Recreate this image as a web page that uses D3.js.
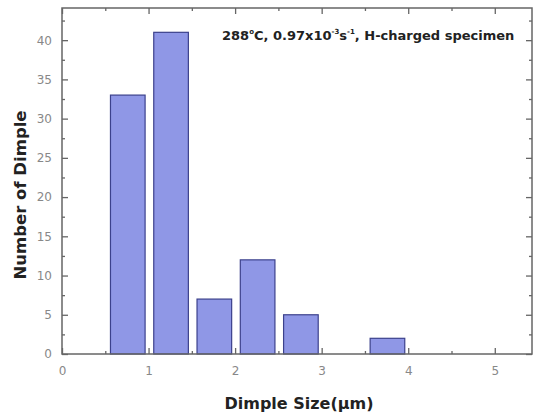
<!DOCTYPE html>
<html>
<head>
<meta charset="utf-8">
<script src="https://cdn.jsdelivr.net/npm/d3@7"></script>
<style>
  body { margin: 0; background: #fff; }
  text { font-family: "DejaVu Sans", Arial, sans-serif; }
</style>
</head>
<body>
<svg id="chart" width="534" height="419"></svg>
<script>
// 柱的区间起点和终点 (μm)
const binStart = [0.5, 1.0, 1.5, 2.0, 2.5, 3.5];
const binEnd = [1.0, 1.5, 2.0, 2.5, 3.0, 4.0];
// 每个区间的韧窝数
const counts = [33, 41, 7, 12, 5, 2];
// 刻度
const xTicks = [0, 1, 2, 3, 4, 5];
const yTicks = [0, 5, 10, 15, 20, 25, 30, 35, 40];

const svg = d3.select("#chart");

const mLeft = 62, mRight = 532, mTop = 8, mBottom = 354;

const x = d3.scaleLinear().domain([0, 5.43]).range([mLeft, mRight]);
const y = d3.scaleLinear().domain([0, 44.1]).range([mBottom, mTop]);

const axisColor = "#666";

// 柱子
svg.selectAll("rect.bar")
  .data(counts)
  .enter()
  .append("rect")
  .attr("class", "bar")
  .attr("x", (d, i) => x(binStart[i] + 0.06))
  .attr("width", (d, i) => x(binEnd[i] - 0.04) - x(binStart[i] + 0.06))
  .attr("y", d => y(d))
  .attr("height", d => y(0) - y(d))
  .attr("fill", "#8f97e6")
  .attr("stroke", "#3c418c")
  .attr("stroke-width", 1.2);

// 边框
svg.append("rect")
  .attr("x", mLeft)
  .attr("y", mTop)
  .attr("width", mRight - mLeft)
  .attr("height", mBottom - mTop)
  .attr("fill", "none")
  .attr("stroke", axisColor)
  .attr("stroke-width", 1.5);

// 坐标轴 (刻度朝内)
const xMinor = d3.range(0.5, 5.5, 1);
const yMinor = d3.range(2.5, 44, 5);

svg.append("g")
  .attr("transform", `translate(0,${mBottom})`)
  .call(d3.axisBottom(x).tickValues(xTicks).tickFormat(d3.format("d")).tickSizeInner(-6).tickSizeOuter(0).tickPadding(12))
  .call(g => g.select(".domain").remove());
svg.append("g")
  .attr("transform", `translate(0,${mBottom})`)
  .call(d3.axisBottom(x).tickValues(xMinor).tickSize(-3).tickFormat(""))
  .call(g => g.select(".domain").remove());
svg.append("g")
  .attr("transform", `translate(0,${mTop})`)
  .call(d3.axisTop(x).tickValues(xTicks).tickSize(-6).tickFormat(""))
  .call(g => g.select(".domain").remove());
svg.append("g")
  .attr("transform", `translate(0,${mTop})`)
  .call(d3.axisTop(x).tickValues(xMinor).tickSize(-3).tickFormat(""))
  .call(g => g.select(".domain").remove());

svg.append("g")
  .attr("transform", `translate(${mLeft},0)`)
  .call(d3.axisLeft(y).tickValues(yTicks).tickSizeInner(-6).tickSizeOuter(0).tickPadding(10))
  .call(g => g.select(".domain").remove());
svg.append("g")
  .attr("transform", `translate(${mLeft},0)`)
  .call(d3.axisLeft(y).tickValues(yMinor).tickSize(-3).tickFormat(""))
  .call(g => g.select(".domain").remove());
svg.append("g")
  .attr("transform", `translate(${mRight},0)`)
  .call(d3.axisRight(y).tickValues(yTicks).tickSize(-6).tickFormat(""))
  .call(g => g.select(".domain").remove());
svg.append("g")
  .attr("transform", `translate(${mRight},0)`)
  .call(d3.axisRight(y).tickValues(yMinor).tickSize(-3).tickFormat(""))
  .call(g => g.select(".domain").remove());

svg.selectAll(".tick line").attr("stroke", axisColor).attr("stroke-width", 1.3);
svg.selectAll(".tick text")
  .attr("fill", "#888")
  .style("font-size", "12px")
  .style("font-family", "\"DejaVu Sans\", sans-serif");

// 轴标题
svg.append("text")
  .attr("x", 299)
  .attr("y", 409)
  .attr("text-anchor", "middle")
  .attr("font-weight", "bold")
  .attr("font-size", 16)
  .attr("fill", "#222")
  .text("Dimple Size(\u03bcm)");

svg.append("text")
  .attr("transform", "translate(26,195) rotate(-90)")
  .attr("text-anchor", "middle")
  .attr("font-weight", "bold")
  .attr("font-size", 16.5)
  .attr("fill", "#222")
  .text("Number of Dimple");

// 注释
const note = svg.append("text")
  .attr("x", 222)
  .attr("y", 40)
  .attr("font-weight", "bold")
  .attr("font-size", 13)
  .attr("fill", "#222");
note.append("tspan").text("288");
note.append("tspan").attr("dy", -6).attr("font-size", 7).text("o");
note.append("tspan").attr("dy", 6).text("C, 0.97x10");
note.append("tspan").attr("dy", -6).attr("font-size", 7).text("-3");
note.append("tspan").attr("dy", 6).text("s");
note.append("tspan").attr("dy", -6).attr("font-size", 7).text("-1");
note.append("tspan").attr("dy", 6).text(", H-charged specimen");
</script>
</body>
</html>
